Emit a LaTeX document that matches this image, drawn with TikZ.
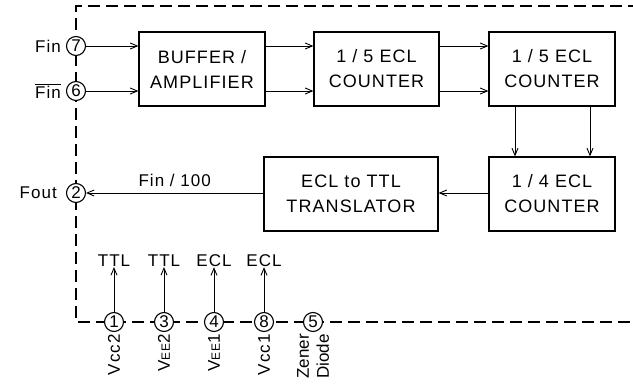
\documentclass[tikz,border=0pt]{standalone}
\usepackage{fontspec}
\setmainfont{Liberation Sans}[LetterSpace=6]
\usetikzlibrary{arrows.meta}
\tikzset{
  blk/.style={draw, line width=1.3pt, align=center, inner sep=0pt, font=\fontsize{18}{25}\selectfont},
  pin/.style={draw, circle, fill=white, line width=1.1pt, minimum size=19pt, inner sep=0pt, font=\fontsize{17}{17}\selectfont\addfontfeature{LetterSpace=0}},
  lbl/.style={font=\fontsize{17}{19}\selectfont, inner sep=0pt},
  sig/.style={line width=0.9pt, -{Straight Barb[length=7pt,width=6pt]}},
  border/.style={line width=1.3pt, dash pattern=on 12pt off 6pt}
}
\begin{document}
\begin{tikzpicture}[x=1pt,y=-1pt]
\useasboundingbox (0,0) rectangle (633,387);
% border
\coordinate (tr) at (640,6);
\coordinate (tl) at (76,6);
\coordinate (bl) at (76,322);
\coordinate (br) at (640,322);
\draw[border] (tr) -- (tl) -- (bl) -- (br);
% blocks
\node[blk, minimum width=126pt, minimum height=74pt] (buf) at (202,69) {BUFFER /\\AMPLIFIER};
\node[blk, minimum width=125pt, minimum height=74pt] (c1) at (376.5,69) {1 / 5 ECL\\COUNTER};
\node[blk, minimum width=126pt, minimum height=74pt] (c2) at (552,69) {1 / 5 ECL\\COUNTER};
\node[blk, minimum width=126pt, minimum height=74pt] (c3) at (552,194) {1 / 4 ECL\\COUNTER};
\node[blk, minimum width=174pt, minimum height=74pt] (tr1) at (351,194) {ECL to TTL\\TRANSLATOR};
% pins left
\node[pin] (p7) at (76,46) {7};
\node[pin] (p6) at (76,91) {6};
\node[pin] (p2) at (76,193) {2};
\node[lbl, anchor=east] (lf) at (61,46) {Fin};
\node[lbl, anchor=east] (lfb) at (61,91) {$\overline{\hbox{Fin}}$};
\node[lbl, anchor=east] (lfo) at (57,193) {Fout};
% bottom pins
\node[pin] (p1) at (114,322) {1};
\node[pin] (p3) at (164,322) {3};
\node[pin] (p4) at (214,322) {4};
\node[pin] (p8) at (264,322) {8};
\node[pin] (p5) at (313,322) {5};
\node[lbl] (t1) at (114,261) {TTL};
\node[lbl] (t3) at (164,261) {TTL};
\node[lbl] (t4) at (214,261) {ECL};
\node[lbl] (t8) at (264,261) {ECL};
\node[lbl, rotate=90, anchor=east] (v1) at (114,334) {Vcc2};
\node[lbl, rotate=90, anchor=east] (v3) at (164,334) {V{\fontsize{12}{12}\selectfont EE}2};
\node[lbl, rotate=90, anchor=east] (v4) at (214,334) {V{\fontsize{12}{12}\selectfont EE}1};
\node[lbl, rotate=90, anchor=east] (v8) at (264,334) {Vcc1};
\node[lbl, rotate=90, anchor=east, align=left, font=\fontsize{17}{20}\selectfont\addfontfeature{LetterSpace=0}] (zd) at (313,334) {Zener\\Diode};
% signals
\draw[sig] (p7) -- (p7 -| buf.west);
\draw[sig] (p6) -- (p6 -| buf.west);
\draw[sig] (buf.east |- p7) -- (c1.west |- p7);
\draw[sig] (buf.east |- p6) -- (c1.west |- p6);
\draw[sig] (c1.east |- p7) -- (c2.west |- p7);
\draw[sig] (c1.east |- p6) -- (c2.west |- p6);
\coordinate (xa) at (515,0);
\coordinate (xb) at (590,0);
\draw[sig] (c2.south -| xa) -- (c3.north -| xa);
\draw[sig] (c2.south -| xb) -- (c3.north -| xb);
\draw[sig] (c3.west |- p2) -- (tr1.east |- p2);
\draw[sig] (tr1.west |- p2) -- (p2) node[lbl, midway, above=6pt] (f100) {Fin / 100};
\draw[sig] (p1) -- (t1.south);
\draw[sig] (p3) -- (t3.south);
\draw[sig] (p4) -- (t4.south);
\draw[sig] (p8) -- (t8.south);
\end{tikzpicture}
\end{document}
